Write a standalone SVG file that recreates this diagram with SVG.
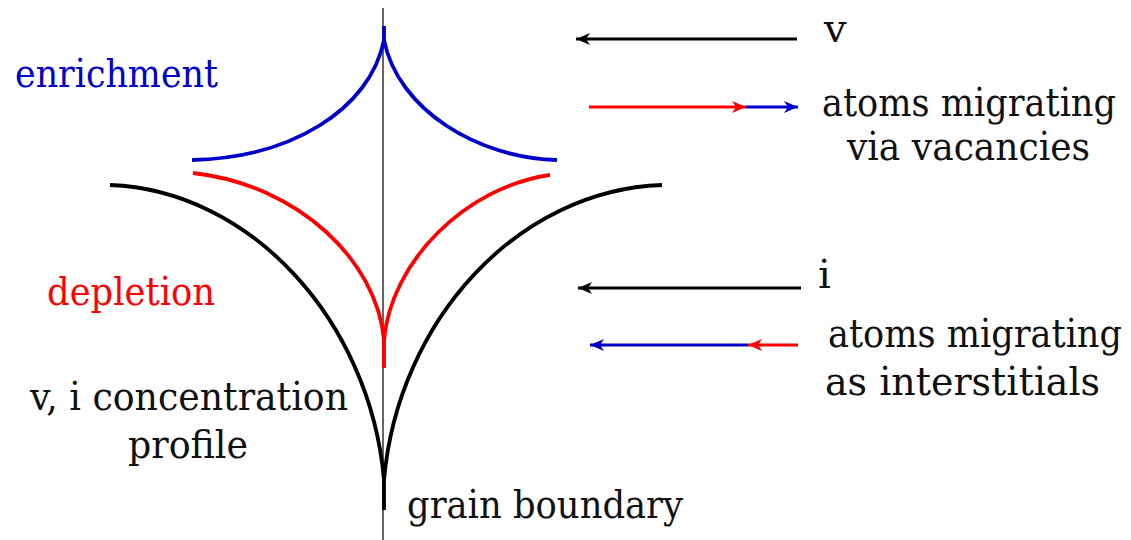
<svg xmlns="http://www.w3.org/2000/svg" width="1131" height="540" viewBox="0 0 1131 540">
<style>
.t{font-family:'DejaVu Serif',serif;font-size:40px;fill:#111}
.curve{fill:none;stroke-width:3.8;stroke-linecap:butt}
.arr{stroke-width:3;fill:none}
</style>
<defs>
<marker id="hk" markerUnits="userSpaceOnUse" markerWidth="16" markerHeight="12" refX="14" refY="6" orient="auto"><path d="M0,0 L14,6 L0,12 L4,6 Z" fill="#000"/></marker>
<marker id="hr" markerUnits="userSpaceOnUse" markerWidth="16" markerHeight="12" refX="14" refY="6" orient="auto"><path d="M0,0 L14,6 L0,12 L4,6 Z" fill="#ff0000"/></marker>
<marker id="hb" markerUnits="userSpaceOnUse" markerWidth="16" markerHeight="12" refX="14" refY="6" orient="auto"><path d="M0,0 L14,6 L0,12 L4,6 Z" fill="#0000cc"/></marker>
</defs>
<rect width="1131" height="540" fill="#fff"/>
<g id="grain-boundary-line">
<line x1="383" y1="8" x2="383" y2="540" stroke="#333" stroke-width="1.5"/>
</g>
<g id="enrichment-curve">
<path class="curve" stroke="#0000cc" d="M192,160 C290,158 370,110 384,40 L384,26 M557,160 C478,158 398,110 384,40"/>
</g>
<g id="depletion-curve">
<path class="curve" stroke="#ff0000" d="M193,173 C300,185 377,262 384,340 L384,368 M550,175 C465,187 391,262 384,340"/>
</g>
<g id="concentration-profile">
<path class="curve" stroke="#000" d="M110,185 C250,190 370,320 384,480 L384,510 M662,185 C518,190 398,320 384,480"/>
</g>
<g id="connectors">
<line class="arr" x1="797" y1="39" x2="576" y2="39" stroke="#000" marker-end="url(#hk)"/>
<line class="arr" x1="589" y1="107" x2="746" y2="107" stroke="#ff0000" marker-end="url(#hr)"/>
<line class="arr" x1="746" y1="107" x2="798" y2="107" stroke="#0000cc" marker-end="url(#hb)"/>
<line class="arr" x1="801" y1="288" x2="578" y2="288" stroke="#000" marker-end="url(#hk)"/>
<line class="arr" x1="798" y1="345" x2="748" y2="345" stroke="#ff0000" marker-end="url(#hr)"/>
<line class="arr" x1="748" y1="345" x2="590" y2="345" stroke="#0000cc" marker-end="url(#hb)"/>
</g>
<g id="labels">
<text class="t" x="15" y="87" style="fill:#0000cc" textLength="203" lengthAdjust="spacingAndGlyphs">enrichment</text>
<text class="t" x="47" y="305" style="fill:#ff0000" textLength="168" lengthAdjust="spacingAndGlyphs">depletion</text>
<text class="t" x="30" y="410" textLength="318" lengthAdjust="spacingAndGlyphs">v, i concentration</text>
<text class="t" x="128" y="458" textLength="120" lengthAdjust="spacingAndGlyphs">profile</text>
<text class="t" x="407" y="518" textLength="276" lengthAdjust="spacingAndGlyphs">grain boundary</text>
<text class="t" x="824" y="42">v</text>
<text class="t" x="822" y="116" textLength="294" lengthAdjust="spacingAndGlyphs">atoms migrating</text>
<text class="t" x="847" y="160" textLength="243" lengthAdjust="spacingAndGlyphs">via vacancies</text>
<text class="t" x="818" y="288">i</text>
<text class="t" x="828" y="347" textLength="294" lengthAdjust="spacingAndGlyphs">atoms migrating</text>
<text class="t" x="825" y="395" textLength="275" lengthAdjust="spacingAndGlyphs">as interstitials</text>
</g>
</svg>
